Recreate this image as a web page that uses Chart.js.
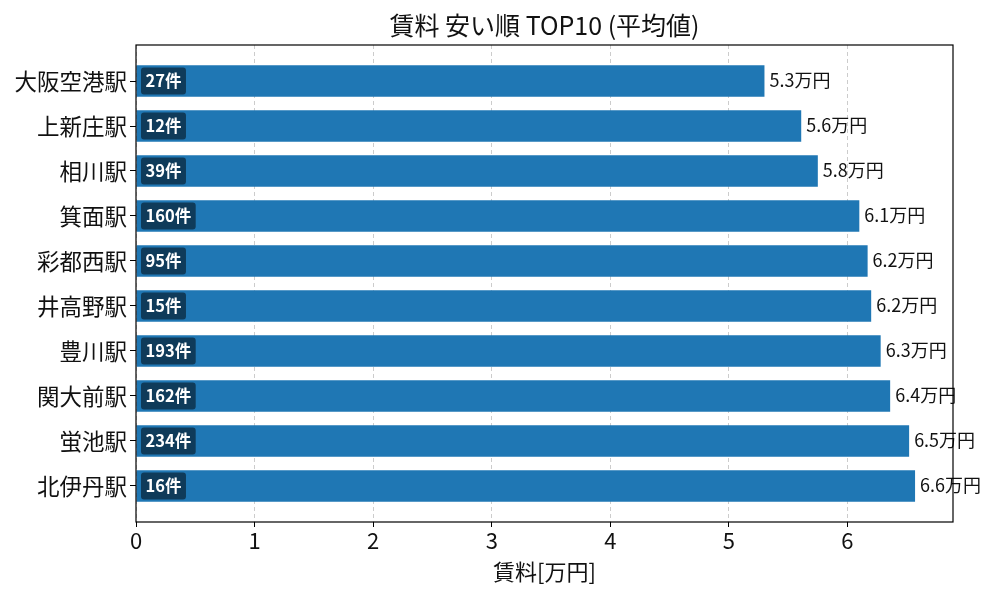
<!DOCTYPE html>
<html>
<head>
<meta charset="utf-8">
<script src="https://cdn.jsdelivr.net/npm/chart.js@4.4.1/dist/chart.umd.min.js"></script>
<style>
  html, body { margin: 0; padding: 0; background: #fff; }
  #wrap { width: 1000px; height: 600px; }
</style>
</head>
<body>
<div id="wrap"><canvas id="grafico"></canvas></div>
<script>
// ---- dados ----
const estacoes = ["大阪空港駅", "上新庄駅", "相川駅", "箕面駅", "彩都西駅", "井高野駅", "豊川駅", "関大前駅", "蛍池駅", "北伊丹駅"];
const aluguel = [5.30, 5.61, 5.75, 6.10, 6.17, 6.20, 6.28, 6.36, 6.52, 6.57];
const contagem = [27, 12, 39, 160, 95, 15, 193, 162, 234, 16];
const xTicks = [0, 1, 2, 3, 4, 5, 6];

const titulo = "賃料 安い順 TOP10 (平均値)";
const eixoX = "賃料[万円]";
const FONTE = "'Noto Sans CJK JP', 'Noto Sans', sans-serif";

// ---- rotulos: badge com contagem + valor no fim da barra ----
const rotulosPlugin = {
  id: "rotulos",
  afterDatasetsDraw(chart) {
    const { ctx } = chart;
    const xs = chart.scales.x;
    const ys = chart.scales.y;
    ctx.save();
    ctx.textBaseline = "middle";
    aluguel.forEach((v, i) => {
      const y = ys.getPixelForValue(i);
      const x0 = xs.getPixelForValue(0);
      const x1 = xs.getPixelForValue(v);

      // badge
      ctx.font = "bold 16.5px " + FONTE;
      const txt = contagem[i] + "件";
      const w = ctx.measureText(txt).width;
      const bx = x0 + 5, bh = 27, bw = w + 9;
      ctx.fillStyle = "rgba(0,0,0,0.5)";
      ctx.beginPath();
      ctx.roundRect(bx, y - bh / 2, bw, bh, 3);
      ctx.fill();
      ctx.fillStyle = "#fff";
      ctx.textAlign = "left";
      ctx.fillText(txt, bx + 4.5, y - 0.5);

      // valor
      ctx.font = "18px " + FONTE;
      ctx.fillStyle = "#111";
      ctx.fillText((Math.round(v * 10) / 10).toFixed(1) + "万円", x1 + 5, y - 1);
    });
    ctx.restore();
  },
  afterDraw(chart) {
    const { ctx, chartArea: a } = chart;
    ctx.save();
    // moldura
    ctx.strokeStyle = "#000";
    ctx.lineWidth = 1.2;
    ctx.strokeRect(a.left, a.top, a.right - a.left, a.bottom - a.top);
    // titulo
    ctx.font = "25px " + FONTE;
    ctx.fillStyle = "#111";
    ctx.textAlign = "center";
    ctx.textBaseline = "middle";
    ctx.fillText(titulo, (a.left + a.right) / 2, 25);
    ctx.restore();
  },
};

function gerarGrafico() {
  const ctx = document.getElementById("grafico").getContext("2d");
  new Chart(ctx, {
    type: "bar",
    data: {
      datasets: [
        {
          data: aluguel.map((v, i) => ({ x: v, y: i })),
          backgroundColor: "#1f77b4",
          categoryPercentage: 1,
          barPercentage: 0.7,
        },
      ],
    },
    options: {
      indexAxis: "y",
      responsive: true,
      maintainAspectRatio: false,
      animation: false,
      layout: { padding: { left: 0, right: 47, top: 45, bottom: 11 } },
      plugins: {
        legend: { display: false },
        tooltip: { enabled: false },
      },
      scales: {
        x: {
          type: "linear",
          position: "bottom",
          min: 0,
          max: 6.89,
          afterBuildTicks: (s) => { s.ticks = xTicks.map((v) => ({ value: v })); },
          afterFit: (s) => { s.height = 67; },
          ticks: {
            color: "#111",
            font: { family: FONTE, size: 22 },
            padding: 0,
            maxRotation: 0,
          },
          grid: {
            color: "#cccccc",
            lineWidth: 1,
            tickLength: 5,
            tickColor: "#000",
            tickBorderDash: [1, 0],
          },
          border: { display: false, dash: [4, 3] },
          title: {
            display: true,
            text: eixoX,
            color: "#111",
            font: { family: FONTE, size: 22 },
            padding: { top: 4, bottom: 4 },
          },
        },
        y: {
          type: "linear",
          reverse: true,
          offset: false,
          min: -0.8,
          max: 9.8,
          afterBuildTicks: (s) => { s.ticks = estacoes.map((_, i) => ({ value: i })); },
          afterFit: (s) => { s.width = 136; },
          ticks: {
            color: "#111",
            font: { family: FONTE, size: 22.5 },
            padding: 3,
            callback: (v) => estacoes[v],
          },
          grid: {
            offset: false,
            drawOnChartArea: false,
            tickLength: 6,
            color: "#000",
          },
          border: { display: false },
        },
      },
    },
    plugins: [rotulosPlugin],
  });
}

window.addEventListener("load", gerarGrafico);
</script>
</body>
</html>
